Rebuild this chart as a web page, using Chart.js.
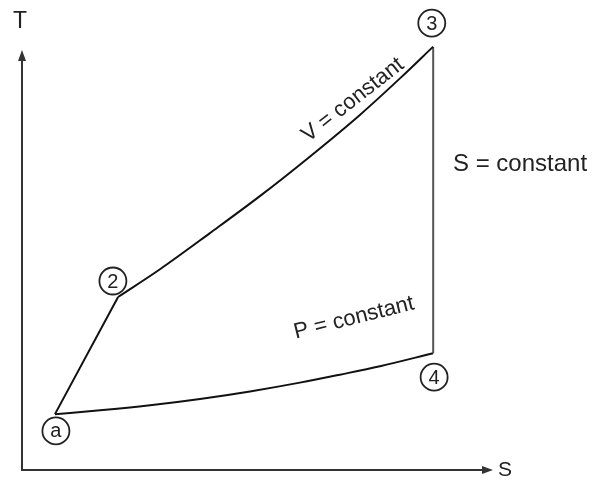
<!DOCTYPE html>
<html>
<head>
<meta charset="utf-8">
<script src="https://cdn.jsdelivr.net/npm/chart.js@4/dist/chart.umd.min.js"></script>
<style>
  body { margin: 0; background: #fff; }
  #wrap { width: 595px; height: 481px; }
</style>
</head>
<body>
<div id="wrap"><canvas id="tsChart"></canvas></div>
<script>
// state points (S, T) in arbitrary units
const stateLabels = ["a", "2", "3", "4"];
const stateS = [7.0, 20.4, 87.3, 87.3];
const stateT = [13.3, 41.2, 100.7, 27.8];

// where the circled labels sit
const markerS = [7.2, 19.3, 87.0, 87.5];
const markerT = [9.3, 45.0, 106.4, 22.1];

// V = constant curve, 2 -> 3
const vCurveS = [20.4, 29.3, 39.9, 50.5, 61.1, 71.8, 80.3, 87.3];
const vCurveT = [41.2, 47.8, 56.4, 65.2, 74.6, 84.6, 93.3, 100.8];

// P = constant curve, a -> 4
const pCurveS = [7.0, 16.6, 27.2, 37.8, 48.4, 59.0, 67.5, 76.0, 87.3];
const pCurveT = [13.3, 14.2, 15.4, 16.9, 18.7, 20.8, 22.7, 24.7, 27.8];

const toPts = (xs, ys) => xs.map((x, i) => ({ x: x, y: ys[i] }));

const lineStyle = {
  showLine: true,
  borderColor: "#111",
  borderWidth: 2,
  pointRadius: 0,
  fill: false,
  clip: false,
};

const FONT = "'Liberation Sans', Arial, sans-serif";

// draws axes with arrows, circled state labels and the curve notes
const diagramPlugin = {
  id: "diagram",
  afterDatasetsDraw(chart) {
    const ctx = chart.ctx;
    const xs = chart.scales.x;
    const ys = chart.scales.y;
    const x0 = xs.getPixelForValue(0);
    const y0 = ys.getPixelForValue(0);
    const xEnd = xs.getPixelForValue(100);
    const yEnd = ys.getPixelForValue(100);

    ctx.save();
    ctx.strokeStyle = "#333";
    ctx.fillStyle = "#333";
    ctx.lineWidth = 2;
    ctx.beginPath();
    ctx.moveTo(x0, yEnd + 4);
    ctx.lineTo(x0, y0);
    ctx.lineTo(xEnd - 4, y0);
    ctx.stroke();
    // arrow heads
    ctx.beginPath();
    ctx.moveTo(x0, yEnd);
    ctx.lineTo(x0 - 4, yEnd + 11);
    ctx.lineTo(x0 + 4, yEnd + 11);
    ctx.closePath();
    ctx.fill();
    ctx.beginPath();
    ctx.moveTo(xEnd, y0);
    ctx.lineTo(xEnd - 11, y0 - 4);
    ctx.lineTo(xEnd - 11, y0 + 4);
    ctx.closePath();
    ctx.fill();

    ctx.fillStyle = "#222";
    ctx.textAlign = "center";
    ctx.textBaseline = "middle";
    ctx.font = "23px " + FONT;
    ctx.fillText("T", x0 - 2, 22);
    ctx.font = "21px " + FONT;
    ctx.fillText("S", xEnd + 12, y0);

    // circled state labels
    stateLabels.forEach((lab, i) => {
      const px = xs.getPixelForValue(markerS[i]);
      const py = ys.getPixelForValue(markerT[i]);
      ctx.beginPath();
      ctx.arc(px, py, 13.5, 0, Math.PI * 2);
      ctx.fillStyle = "#fff";
      ctx.fill();
      ctx.lineWidth = 1.8;
      ctx.strokeStyle = "#222";
      ctx.stroke();
      ctx.fillStyle = "#222";
      ctx.font = "20px " + FONT;
      ctx.fillText(lab, px, py + 1);
    });

    // notes along the curves
    ctx.font = "22px " + FONT;
    ctx.fillStyle = "#222";
    ctx.save();
    ctx.translate(353, 100);
    ctx.rotate(-38 * Math.PI / 180);
    ctx.fillText("V = constant", 0, 0);
    ctx.restore();

    ctx.save();
    ctx.translate(354, 318);
    ctx.rotate(-14 * Math.PI / 180);
    ctx.fillText("P = constant", 0, 0);
    ctx.restore();

    ctx.font = "24px " + FONT;
    ctx.textAlign = "left";
    ctx.fillText("S = constant", 453, 164);
    ctx.restore();
  },
};

new Chart(document.getElementById("tsChart"), {
  type: "scatter",
  data: {
    datasets: [
      { ...lineStyle, data: toPts([stateS[0], stateS[1]], [stateT[0], stateT[1]]) },
      { ...lineStyle, data: toPts(vCurveS, vCurveT), cubicInterpolationMode: "monotone" },
      { ...lineStyle, borderColor: "#555", data: toPts([stateS[2], stateS[3]], [stateT[2], stateT[3]]) },
      { ...lineStyle, data: toPts(pCurveS, pCurveT), cubicInterpolationMode: "monotone" },
    ],
  },
  options: {
    responsive: true,
    maintainAspectRatio: false,
    animation: false,
    layout: { padding: { left: 22, right: 102, top: 50, bottom: 11 } },
    scales: {
      x: { type: "linear", min: 0, max: 100, display: false },
      y: { type: "linear", min: 0, max: 100, display: false },
    },
    plugins: {
      legend: { display: false },
      tooltip: { enabled: false },
    },
  },
  plugins: [diagramPlugin],
});
</script>
</body>
</html>
